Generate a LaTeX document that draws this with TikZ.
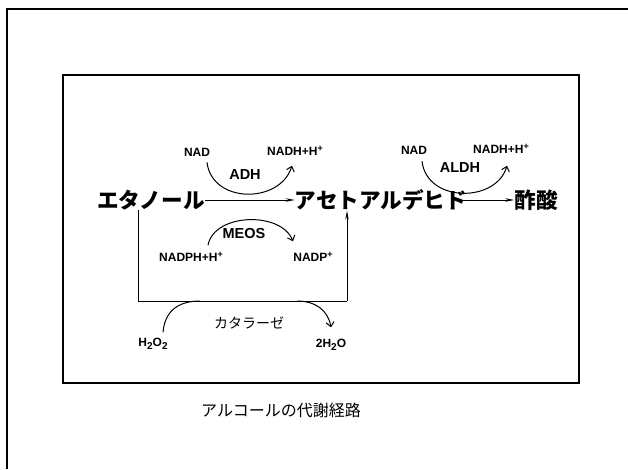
\documentclass[tikz,border=0pt]{standalone}
\usepackage{fontspec}
\setmainfont{Liberation Sans}
\newfontfamily\jp{Noto Sans CJK JP}
\usetikzlibrary{arrows.meta}
\newcommand{\sps}[1]{\raisebox{0.6ex}{\fontsize{9}{10}\selectfont #1}}
\newcommand{\sbs}[1]{\raisebox{-0.4ex}{\fontsize{10}{10}\selectfont #1}}
\tikzset{
  main/.style={inner sep=0pt, font=\jp\bfseries\fontsize{21.6}{24}\selectfont},
  enz/.style={inner sep=0pt, font=\bfseries\fontsize{14.5}{16}\selectfont},
  cof/.style={inner sep=0pt, font=\bfseries\fontsize{12}{13}\selectfont},
  jsmall/.style={inner sep=0pt, font=\jp\fontsize{14}{16}\selectfont},
  captext/.style={inner sep=0pt, font=\jp\fontsize{16}{18}\selectfont},
  conn/.style={line width=1pt},
  bigarr/.style={conn, -{Stealth[length=9pt,width=3.5pt]}},
  barb/.style={conn, -{Straight Barb[length=4.5pt,width=8pt]}},
  frame/.style={line width=1.3pt}
}
\begin{document}
\begin{tikzpicture}[x=1pt,y=-1pt]
\fill[white] (0,0) rectangle (628,469);
\useasboundingbox (0,0) rectangle (628,469);
% frames
\draw[frame, line width=1.8pt] (7,469) -- (7,9) -- (628,9);
\draw[frame] (63,75) rectangle (579,383);
% main compounds
\node[main] (eth) at (151,200) {エタノール};
\node[main] (acet) at (381,200) {アセトアルデヒド};
\node[main] (sak) at (536,200) {酢酸};
% main arrows
\draw[bigarr] (eth.east) -- (acet.west);
\draw[bigarr] ([xshift=-6pt]acet.east) -- (sak.west);
% ADH
\node[cof] (nad1) at (197,152) {NAD};
\node[cof] (nadh1) at (295,151) {NADH+H\sps{+}};
\node[enz] (adh) at (245,175) {ADH};
\draw[barb] ([xshift=10pt,yshift=-6pt]nad1.south) .. controls (212,204) and (280,204) .. ([xshift=-3pt,yshift=-10pt]nadh1.south);
% ALDH
\node[cof] (nad2) at (414,150) {NAD};
\node[cof] (nadh2) at (501,149) {NADH+H\sps{+}};
\node[enz] (aldh) at (460,168) {ALDH};
\draw[barb] ([xshift=8pt,yshift=-7pt]nad2.south) .. controls (427,203) and (496,203) .. ([xshift=6pt,yshift=-12pt]nadh2.south);
% MEOS
\node[enz] (meos) at (244,234) {MEOS};
\node[cof] (nadph) at (191,257) {NADPH+H\sps{+}};
\node[cof] (nadp) at (313,257) {NADP\sps{+}};
\draw[barb] ([xshift=17pt,yshift=7pt]nadph.north) .. controls (214,213) and (281,211) .. ([xshift=-20pt,yshift=11pt]nadp.north);
% lower bracket
\coordinate (bl) at (138,301);
\coordinate (br) at (347,301);
\draw[conn] (eth.south -| bl) -- (bl) -- (br);
\draw[bigarr] (br) -- (acet.south -| br);
% catalase
\node[jsmall] (kat) at (249,323) {カタラーゼ};
\node[cof] (h2o2) at (153,344) {H\sbs{2}O\sbs{2}};
\node[cof] (h2o) at (331,345) {2H\sbs{2}O};
\coordinate (kl) at (200,301);
\coordinate (kr) at (297,301);
\draw[conn] ([xshift=10pt,yshift=6pt]h2o2.north) .. controls (165,308) and (182,301) .. (kl);
\draw[barb] (kr) .. controls (315,301) and (328,310) .. ([yshift=12pt]h2o.north);
% caption
\node[captext] (caption) at (281,410) {アルコールの代謝経路};
\end{tikzpicture}
\end{document}
